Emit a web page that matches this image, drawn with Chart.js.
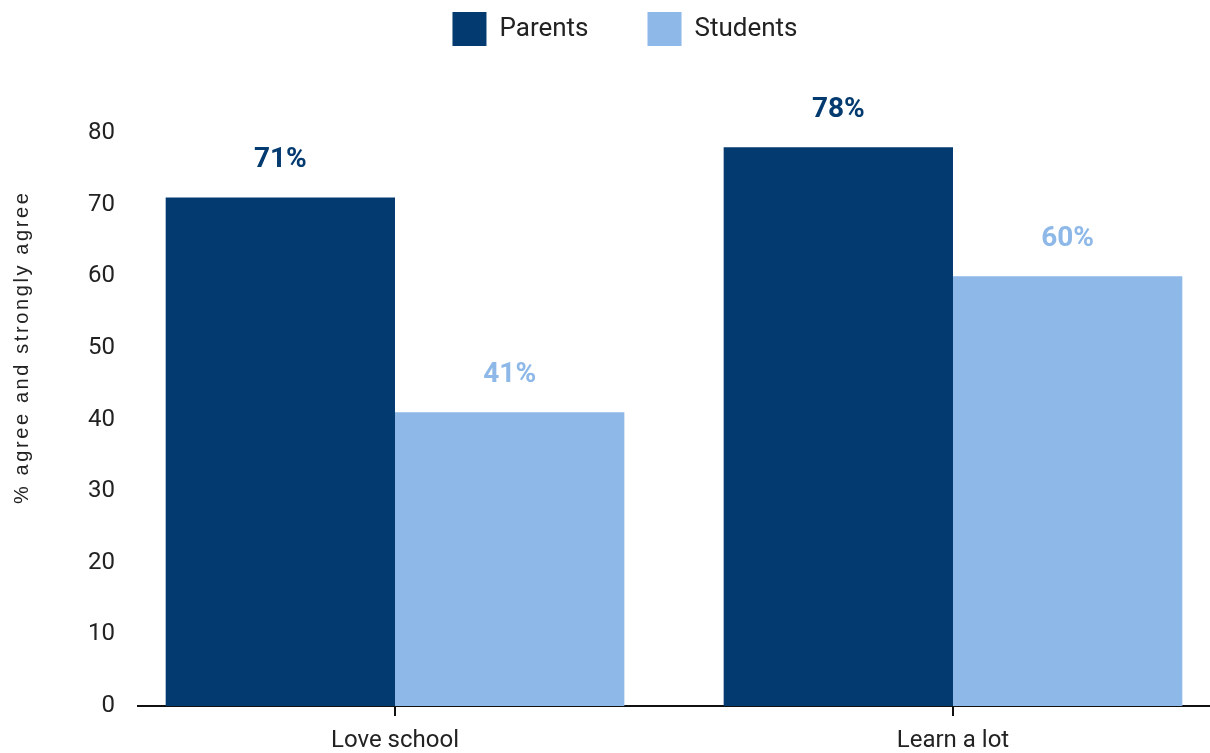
<!DOCTYPE html>
<html>
<head>
<meta charset="utf-8">
<script src="https://cdn.jsdelivr.net/npm/chart.js@4.4.0/dist/chart.umd.min.js"></script>
<style>
  html, body { margin: 0; padding: 0; background: #fff; }
  #wrap { width: 1210px; height: 753px; }
</style>
</head>
<body>
<div id="wrap"><canvas id="surveyChart"></canvas></div>
<script>
const categories = ['Love school', 'Learn a lot'];
const parents = [71, 78];
const students = [41, 60];
const yTicks = [0, 10, 20, 30, 40, 50, 60, 70, 80];
const yTitle = '% agree and strongly agree';

const navy = '#033a6f';
const lightBlue = '#8db8e8';
const ink = '#222222';

Chart.defaults.font.family = 'Roboto';
Chart.defaults.color = ink;

// legend keeps its items at the top but reserves room down to the plot
const legendSpace = {
  id: 'legendSpace',
  beforeInit(chart) {
    const fit = chart.legend.fit;
    chart.legend.fit = function () {
      fit.call(this);
      this.height = 180;
    };
  }
};

// percentage above every bar, in the bar's colour
const barValues = {
  id: 'barValues',
  afterDatasetsDraw(chart) {
    const ctx = chart.ctx;
    ctx.save();
    ctx.font = 'bold 28px Roboto';
    ctx.textAlign = 'center';
    ctx.textBaseline = 'middle';
    chart.data.datasets.forEach((ds, i) => {
      chart.getDatasetMeta(i).data.forEach((bar, j) => {
        ctx.fillStyle = ds.backgroundColor;
        ctx.fillText(ds.data[j].y + '%', bar.x, bar.y - 37);
      });
    });
    ctx.restore();
  }
};

// rotated y title, sitting a bit above the middle of the axis
const sideTitle = {
  id: 'sideTitle',
  afterDraw(chart) {
    const { ctx, chartArea } = chart;
    ctx.save();
    ctx.translate(22, chartArea.top + (chartArea.bottom - chartArea.top) * 0.374);
    ctx.rotate(-Math.PI / 2);
    ctx.font = '20px "Liberation Sans"';
    ctx.letterSpacing = '2.6px';
    ctx.fillStyle = ink;
    ctx.textAlign = 'center';
    ctx.textBaseline = 'middle';
    ctx.fillText(yTitle, 0, 0);
    ctx.restore();
  }
};

const toPoints = vals => vals.map((v, i) => ({ x: i, y: v }));

new Chart(document.getElementById('surveyChart'), {
  type: 'bar',
  data: {
    datasets: [
      { label: 'Parents', data: toPoints(parents), backgroundColor: navy },
      { label: 'Students', data: toPoints(students), backgroundColor: lightBlue }
    ]
  },
  options: {
    responsive: true,
    maintainAspectRatio: false,
    animation: false,
    categoryPercentage: 0.822,
    barPercentage: 1,
    layout: { padding: { left: 40, top: -47, right: 0, bottom: 0 } },
    plugins: {
      legend: {
        position: 'top',
        labels: {
          boxWidth: 34,
          boxHeight: 34,
          padding: 59,
          color: ink,
          font: { size: 26 }
        }
      },
      tooltip: { enabled: false }
    },
    scales: {
      x: {
        type: 'linear',
        min: -0.4606,
        max: 1.4606,
        offset: false,
        afterBuildTicks: scale => {
          scale.ticks = categories.map((c, i) => ({ value: i }));
        },
        afterFit: scale => { scale.height = 47; },
        ticks: {
          padding: 11,
          color: ink,
          font: { size: 24 },
          callback: v => categories[v]
        },
        grid: {
          offset: false,
          drawOnChartArea: false,
          drawTicks: true,
          tickLength: 10,
          color: '#111',
          lineWidth: 2
        },
        border: { display: true, color: '#111', width: 2 }
      },
      y: {
        min: 0,
        max: 80,
        afterBuildTicks: scale => {
          scale.ticks = yTicks.map(v => ({ value: v }));
        },
        afterFit: scale => { scale.width = 98; },
        ticks: {
          padding: 23,
          color: ink,
          font: { size: 24 }
        },
        grid: { display: false, drawTicks: false },
        border: { display: false }
      }
    }
  },
  plugins: [legendSpace, barValues, sideTitle]
});
</script>
</body>
</html>
